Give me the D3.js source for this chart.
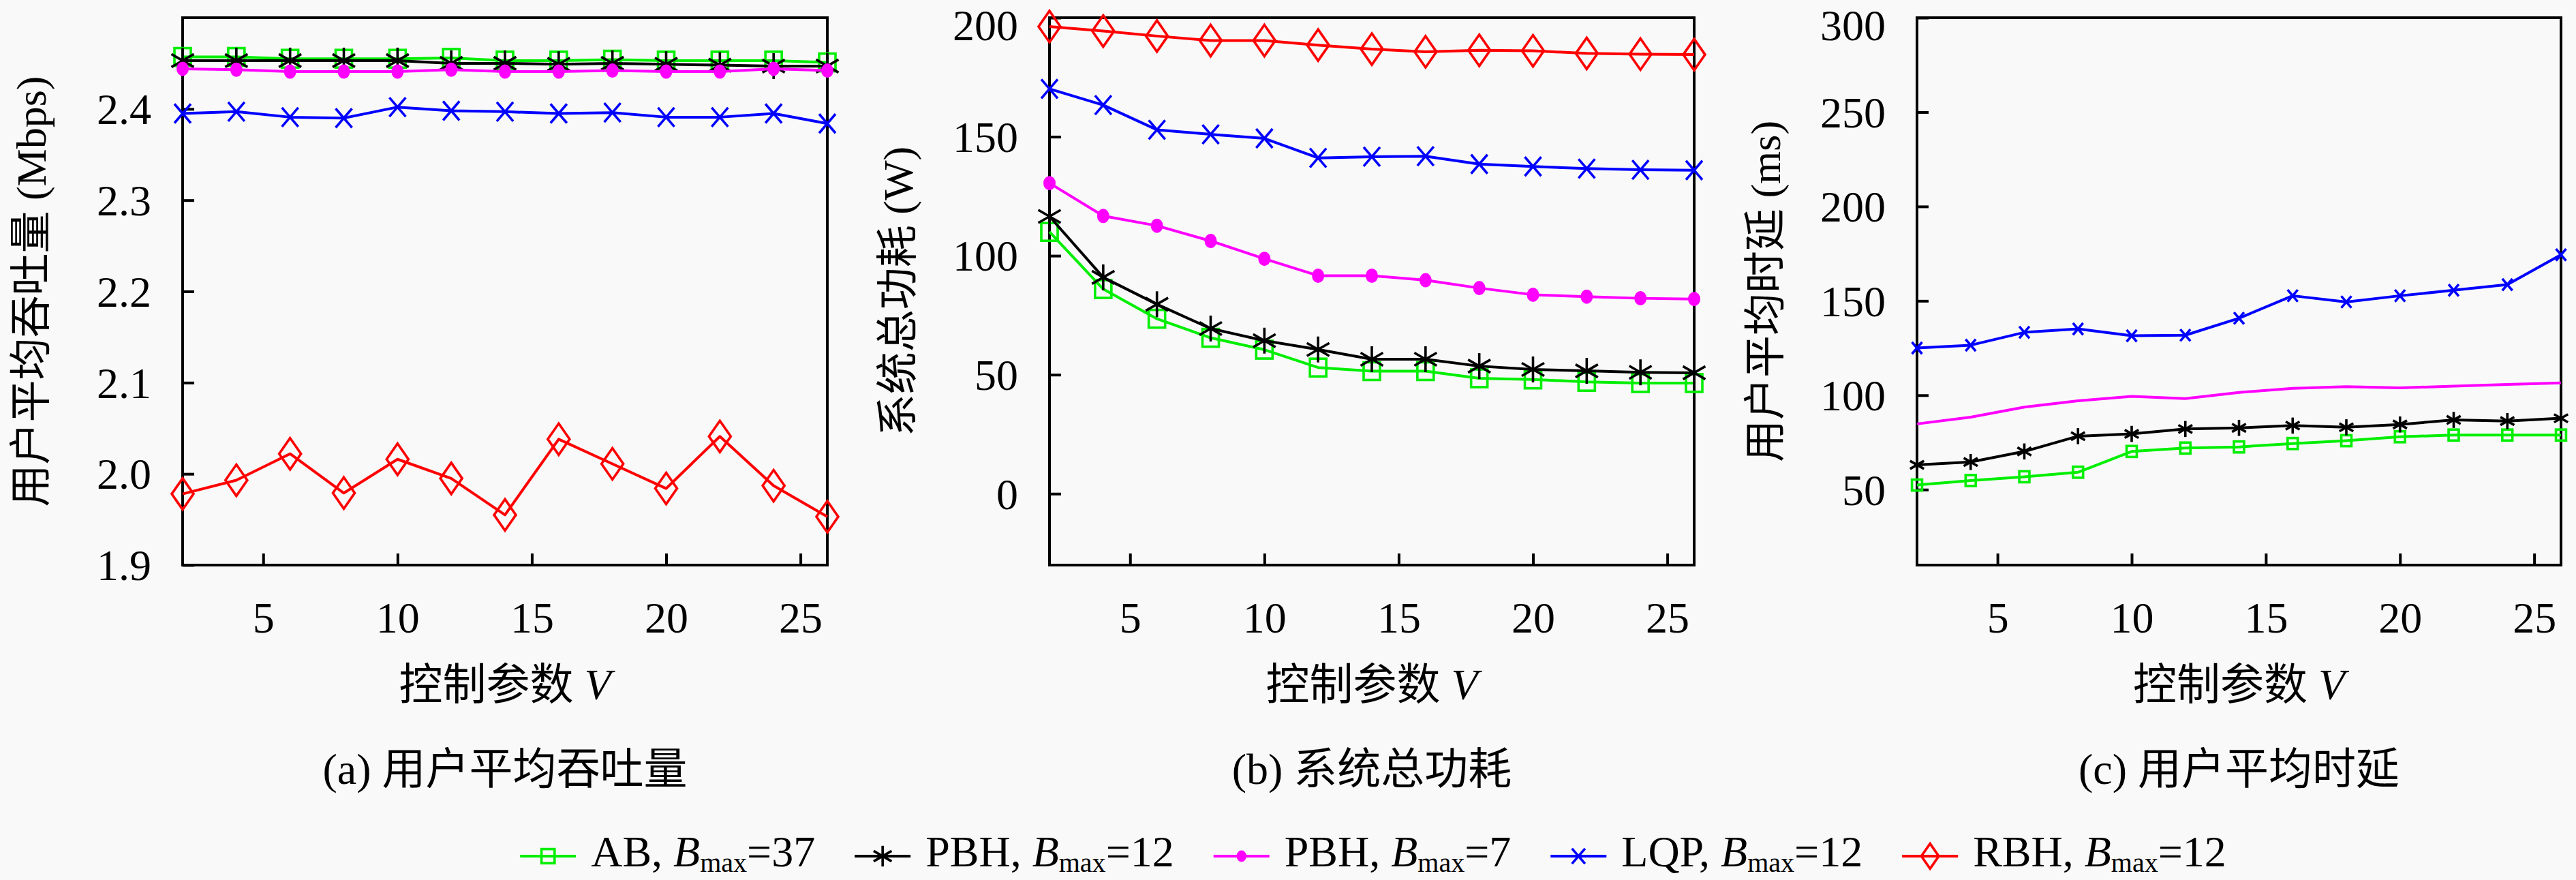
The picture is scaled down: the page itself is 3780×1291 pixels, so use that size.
<!DOCTYPE html>
<html>
<head>
<meta charset="utf-8">
<script src="https://cdn.jsdelivr.net/npm/d3@7/dist/d3.min.js"></script>
<style>
  html, body { margin: 0; padding: 0; background: #f9f9f9; }
  svg { display: block; }
  text { font-family: 'Liberation Serif', 'Noto Sans CJK SC', serif; fill: #000; }
</style>
</head>
<body>
<svg id="chart" width="3780" height="1291"></svg>
<script>
// ---------------- data ----------------
const V = [2, 4, 6, 8, 10, 12, 14, 16, 18, 20, 22, 24, 26];

// (a) average user throughput (Mbps)
const thrAB    = [2.457, 2.457, 2.455, 2.455, 2.455, 2.456, 2.453, 2.453, 2.454, 2.453, 2.453, 2.453, 2.451];
const thrPBH12 = [2.453, 2.453, 2.453, 2.453, 2.453, 2.450, 2.450, 2.449, 2.450, 2.449, 2.448, 2.447, 2.447];
const thrPBH7  = [2.444, 2.443, 2.441, 2.441, 2.441, 2.443, 2.441, 2.441, 2.442, 2.441, 2.441, 2.444, 2.442];
const thrLQP   = [2.395, 2.397, 2.391, 2.390, 2.402, 2.398, 2.397, 2.395, 2.396, 2.391, 2.391, 2.395, 2.384];
const thrRBH   = [1.978, 1.993, 2.022, 1.979, 2.016, 1.995, 1.955, 2.038, 2.011, 1.984, 2.041, 1.987, 1.953];

// (b) total system power (W)
const powAB    = [110, 86, 73.5, 65.5, 60.5, 53, 51.5, 51.5, 48.5, 48, 47, 46.5, 46.5];
const powPBH12 = [116.5, 90.9, 79.6, 69.4, 64.3, 60.6, 56.5, 56.5, 53.6, 52.2, 51.6, 51.0, 50.8];
const powPBH7  = [130.5, 116.7, 112.6, 106.2, 98.7, 91.6, 91.6, 89.7, 86.4, 83.6, 82.8, 82.1, 81.8];
const powLQP   = [170.1, 163.3, 152.9, 151.0, 149.3, 141.1, 141.6, 141.8, 138.5, 137.5, 136.6, 136.1, 135.9];
const powRBH   = [196.3, 194.4, 192.3, 190.4, 190.4, 188.5, 186.8, 185.7, 186.3, 186.1, 185.0, 184.7, 184.5];

// (c) average user delay (ms)
const delAB    = [52.4, 54.8, 56.8, 59.2, 70.2, 72.0, 72.6, 74.4, 75.9, 78.0, 78.9, 78.9, 78.9];
const delPBH12 = [63.1, 64.6, 70.2, 78.3, 79.5, 82.1, 82.7, 83.9, 83.0, 84.5, 86.9, 86.3, 87.8];
const delPBH7  = [84.8, 88.4, 93.7, 97.0, 99.4, 98.2, 101.5, 103.6, 104.5, 103.9, 104.8, 105.7, 106.5];
const delLQP   = [125.0, 126.5, 133.3, 135.1, 131.5, 131.8, 140.8, 152.7, 149.4, 152.7, 155.6, 158.6, 174.4];

// ticks
const xTicks     = [5, 10, 15, 20, 25];
const thrTicks   = [1.9, 2.0, 2.1, 2.2, 2.3, 2.4];
const powTicks   = [0, 50, 100, 150, 200];
const delayTicks = [50, 100, 150, 200, 250, 300];

// series legend names
const seriesNames = ["AB", "PBH", "PBH", "LQP", "RBH"];
const seriesBmax  = ["37", "12", "7", "12", "12"];
const seriesColor = ["#00ee00", "#000000", "#ff00ff", "#0000ff", "#ff0000"];
const seriesMark  = ["square", "asterisk", "dot", "x", "diamond"];

const xLabel = "控制参数 ";
const yLabels = ["用户平均吞吐量 (Mbps)", "系统总功耗 (W)", "用户平均时延 (ms)"];
const captions = ["(a) 用户平均吞吐量", "(b) 系统总功耗", "(c) 用户平均时延"];

// ---------------- drawing ----------------
const svg = d3.select("#chart");
svg.append("rect").attr("width", 3780).attr("height", 1291).attr("fill", "#f9f9f9");

const FS = 64;

function marker(g, type, x, y, color, s) {
  const sw = 3.6;
  if (type === "square") {
    g.append("rect").attr("x", x - 12 * s).attr("y", y - 13 * s)
      .attr("width", 24 * s).attr("height", 26 * s)
      .attr("fill", "none").attr("stroke", color).attr("stroke-width", sw);
  } else if (type === "asterisk") {
    const r = 19 * s;
    [90, 30, 150].forEach(a => {
      const dx = r * Math.cos(a * Math.PI / 180), dy = r * Math.sin(a * Math.PI / 180);
      g.append("line").attr("x1", x - dx).attr("y1", y - dy).attr("x2", x + dx).attr("y2", y + dy)
        .attr("stroke", color).attr("stroke-width", sw);
    });
  } else if (type === "dot") {
    g.append("ellipse").attr("cx", x).attr("cy", y).attr("rx", 9 * s).attr("ry", 10.5 * s)
      .attr("fill", color);
  } else if (type === "x") {
    const rx = 12 * s, ry = 14 * s;
    g.append("path").attr("d", `M${x - rx},${y - ry}L${x + rx},${y + ry}M${x - rx},${y + ry}L${x + rx},${y - ry}`)
      .attr("stroke", color).attr("stroke-width", sw).attr("fill", "none");
  } else if (type === "diamond") {
    const w = 16 * s, h = 23 * s;
    g.append("path").attr("d", `M${x},${y - h}L${x + w},${y}L${x},${y + h}L${x - w},${y}Z`)
      .attr("fill", "none").attr("stroke", color).attr("stroke-width", sw);
  }
}

const panels = [
  { left: 268, right: 1214, yDomain: [1.9, 2.5], ticks: thrTicks, fmt: d3.format(".1f"),
    series: [thrAB, thrPBH12, thrPBH7, thrLQP, thrRBH], markScale: 1, showMark: [1,1,1,1,1] },
  { left: 1540, right: 2486, yDomain: [-30, 200], ticks: powTicks, fmt: d3.format("d"),
    series: [powAB, powPBH12, powPBH7, powLQP, powRBH], markScale: 1, showMark: [1,1,1,1,1] },
  { left: 2813, right: 3758, yDomain: [10, 300], ticks: delayTicks, fmt: d3.format("d"),
    series: [delAB, delPBH12, delPBH7, delLQP, null], markScale: 0.62, showMark: [1,1,0,1,1] }
];
const TOP = 26, BOTTOM = 829;

panels.forEach((p, pi) => {
  const g = svg.append("g");
  const x = d3.scaleLinear().domain([2, 26]).range([p.left, p.right]);
  const y = d3.scaleLinear().domain(p.yDomain).range([BOTTOM, TOP]);

  // frame
  g.append("rect").attr("x", p.left).attr("y", TOP)
    .attr("width", p.right - p.left).attr("height", BOTTOM - TOP)
    .attr("fill", "none").attr("stroke", "#000").attr("stroke-width", 4);

  // x axis (ticks inward)
  const xa = g.append("g").attr("transform", `translate(0,${BOTTOM})`)
    .call(d3.axisBottom(x).tickValues(xTicks).tickSizeInner(-17).tickSizeOuter(0).tickPadding(0));
  xa.select(".domain").remove();
  xa.selectAll(".tick line").attr("stroke", "#000").attr("stroke-width", 4);
  xa.selectAll(".tick text").attr("y", 99).attr("dy", 0)
    .style("font-family", "'Liberation Serif', serif").style("font-size", FS + "px").attr("fill", "#000");

  // y axis (ticks inward)
  const ya = g.append("g").attr("transform", `translate(${p.left},0)`)
    .call(d3.axisLeft(y).tickValues(p.ticks).tickFormat(p.fmt).tickSizeInner(-17).tickSizeOuter(0));
  ya.select(".domain").remove();
  ya.selectAll(".tick line").attr("stroke", "#000").attr("stroke-width", 4);
  ya.selectAll(".tick text").attr("x", -46)
    .attr("dy", d => (y(d) < 40 ? "0.5em" : "0.34em"))
    .style("font-family", "'Liberation Serif', serif").style("font-size", FS + "px").attr("fill", "#000");

  // series
  const line = d3.line().x((d, i) => x(V[i])).y(d => y(d));
  p.series.forEach((s, si) => {
    if (!s) return;
    const sg = g.append("g");
    sg.append("path").attr("d", line(s)).attr("fill", "none")
      .attr("stroke", seriesColor[si]).attr("stroke-width", 4).attr("stroke-linejoin", "round");
    if (p.showMark[si]) {
      s.forEach((d, i) => marker(sg, seriesMark[si], x(V[i]), y(d), seriesColor[si], p.markScale));
    }
  });

  const cx = (p.left + p.right) / 2;
  // y label
  g.append("text")
    .attr("transform", `translate(${p.left - 222},${(TOP + BOTTOM) / 2}) rotate(-90)`)
    .attr("text-anchor", "middle").attr("dominant-baseline", "central")
    .style("font-size", "62px").text(yLabels[pi]);

  // x label
  const xl = g.append("text").attr("x", cx).attr("y", 1026).attr("text-anchor", "middle")
    .style("font-size", "64px");
  xl.append("tspan").text(xLabel);
  xl.append("tspan").style("font-style", "italic").text("V");

  // caption
  g.append("text").attr("x", cx).attr("y", 1150).attr("text-anchor", "middle")
    .style("font-size", "64px").text(captions[pi]);
});

// legend
const lg = svg.append("g");
let cursor = 0;
seriesNames.forEach((name, i) => {
  const ig = lg.append("g");
  ig.append("line").attr("x1", 0).attr("x2", 82).attr("y1", 0).attr("y2", 0)
    .attr("stroke", seriesColor[i]).attr("stroke-width", 4);
  marker(ig, seriesMark[i], 41, 0, seriesColor[i], 0.8);
  const t = ig.append("text").attr("x", 104).attr("y", 15).style("font-size", "64px");
  t.append("tspan").text(name + ", ");
  t.append("tspan").style("font-style", "italic").text("B");
  t.append("tspan").attr("dy", 8).style("font-size", "40px").text("max");
  t.append("tspan").attr("dy", -8).text("=" + seriesBmax[i]);
  const w = 104 + t.node().getComputedTextLength();
  ig.attr("transform", `translate(${cursor},0)`);
  cursor += w + 58;
});
const total = cursor - 58;
lg.attr("transform", `translate(${2015 - total / 2},1256)`);
</script>
</body>
</html>
